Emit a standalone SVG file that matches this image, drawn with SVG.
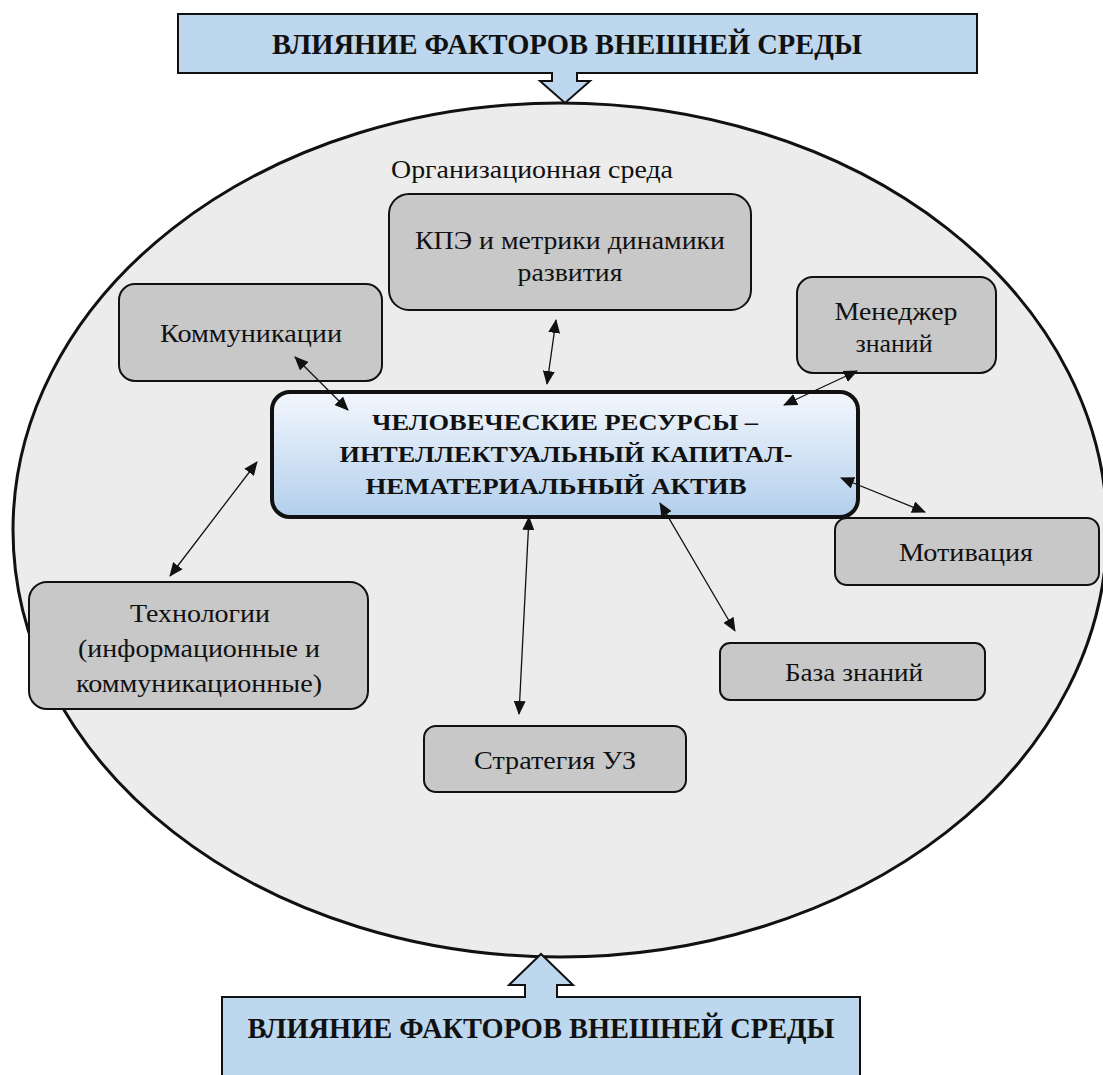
<svg xmlns="http://www.w3.org/2000/svg" width="1103" height="1075" viewBox="0 0 1103 1075">
<style>
.box{fill:#c8c8c8;stroke:#111;stroke-width:2}
.t{font-family:"Liberation Serif","Tinos","DejaVu Serif",serif;font-size:26px;fill:#111;text-anchor:middle}
.b{font-family:"Liberation Serif","Tinos","DejaVu Serif",serif;font-weight:bold;fill:#111;text-anchor:middle}
.ban{fill:#bdd7ee;stroke:#111;stroke-width:2}
.c{stroke:#111;stroke-width:1.3;fill:none;marker-start:url(#ah);marker-end:url(#ah)}
</style>
<defs>
<marker id="ah" markerUnits="userSpaceOnUse" markerWidth="14" markerHeight="12" refX="13" refY="6" orient="auto-start-reverse" viewBox="0 0 14 12">
<path d="M0,0 L14,6 L0,12 Z" fill="#111"/>
</marker>
<linearGradient id="cg" x1="0" y1="0" x2="0" y2="1">
<stop offset="0" stop-color="#f3f7fd"/>
<stop offset="1" stop-color="#b3cfec"/>
</linearGradient>
</defs>
<rect width="1103" height="1075" fill="#fff"/>
<g id="env">
<ellipse cx="560" cy="530" rx="547" ry="427" fill="#ececec" stroke="#111" stroke-width="3"/>
<text class="t" x="532" y="178" textLength="282" lengthAdjust="spacingAndGlyphs">Организационная среда</text>
</g>
<g id="top-banner">
<path class="ban" d="M178,14 H977 V73 H577 V81 H590 L565,103 L540,81 H552 V73 H178 Z"/>
<text class="b" x="567" y="54" font-size="30" textLength="590" lengthAdjust="spacingAndGlyphs">ВЛИЯНИЕ ФАКТОРОВ ВНЕШНЕЙ СРЕДЫ</text>
</g>
<g id="bottom-banner">
<path class="ban" d="M222,1080 V997 H525 V985 H509 L541,954 L573,985 H557 V997 H860 V1080 Z"/>
<text class="b" x="541" y="1038" font-size="30" textLength="587" lengthAdjust="spacingAndGlyphs">ВЛИЯНИЕ ФАКТОРОВ ВНЕШНЕЙ СРЕДЫ</text>
</g>
<g id="center">
<rect x="272" y="392" width="586" height="125" rx="18" fill="url(#cg)" stroke="#111" stroke-width="4"/>
<text class="b" font-size="23" x="565" y="430" textLength="386" lengthAdjust="spacingAndGlyphs">ЧЕЛОВЕЧЕСКИЕ РЕСУРСЫ –</text>
<text class="b" font-size="23" x="566" y="462" textLength="453" lengthAdjust="spacingAndGlyphs">ИНТЕЛЛЕКТУАЛЬНЫЙ КАПИТАЛ-</text>
<text class="b" font-size="23" x="556" y="494" textLength="381" lengthAdjust="spacingAndGlyphs">НЕМАТЕРИАЛЬНЫЙ АКТИВ</text>
</g>
<g id="kpe">
<rect class="box" x="389" y="194" width="362" height="116" rx="20"/>
<text class="t" x="570" y="249" textLength="310" lengthAdjust="spacingAndGlyphs">КПЭ и метрики динамики</text>
<text class="t" x="570" y="281" textLength="105" lengthAdjust="spacingAndGlyphs">развития</text>
</g>
<g id="komm">
<rect class="box" x="119" y="284" width="263" height="97" rx="16"/>
<text class="t" x="251" y="342" textLength="182" lengthAdjust="spacingAndGlyphs">Коммуникации</text>
</g>
<g id="menedzher">
<rect class="box" x="797" y="277" width="199" height="96" rx="16"/>
<text class="t" x="896" y="320" textLength="123" lengthAdjust="spacingAndGlyphs">Менеджер</text>
<text class="t" x="894" y="352" textLength="77" lengthAdjust="spacingAndGlyphs">знаний</text>
</g>
<g id="motiv">
<rect class="box" x="835" y="518" width="264" height="67" rx="12"/>
<text class="t" x="966" y="561" textLength="134" lengthAdjust="spacingAndGlyphs">Мотивация</text>
</g>
<g id="baza">
<rect class="box" x="720" y="643" width="265" height="57" rx="10"/>
<text class="t" x="854" y="681" textLength="138" lengthAdjust="spacingAndGlyphs">База знаний</text>
</g>
<g id="strat">
<rect class="box" x="424" y="726" width="262" height="66" rx="12"/>
<text class="t" x="555" y="769" textLength="162" lengthAdjust="spacingAndGlyphs">Стратегия УЗ</text>
</g>
<g id="tech">
<rect class="box" x="29" y="582" width="339" height="127" rx="18"/>
<text class="t" x="200" y="622" textLength="140" lengthAdjust="spacingAndGlyphs">Технологии</text>
<text class="t" x="199" y="657" textLength="242" lengthAdjust="spacingAndGlyphs">(информационные и</text>
<text class="t" x="199" y="692" textLength="246" lengthAdjust="spacingAndGlyphs">коммуникационные)</text>
</g>
<g id="connectors">
<line class="c" x1="295" y1="357" x2="348" y2="410"/>
<line class="c" x1="556" y1="320" x2="547" y2="384"/>
<line class="c" x1="857" y1="371" x2="784" y2="405"/>
<line class="c" x1="841" y1="478" x2="925" y2="512"/>
<line class="c" x1="660" y1="503" x2="735" y2="631"/>
<line class="c" x1="529" y1="517" x2="519" y2="714"/>
<line class="c" x1="257" y1="462" x2="170" y2="576"/>
</g>
</svg>
